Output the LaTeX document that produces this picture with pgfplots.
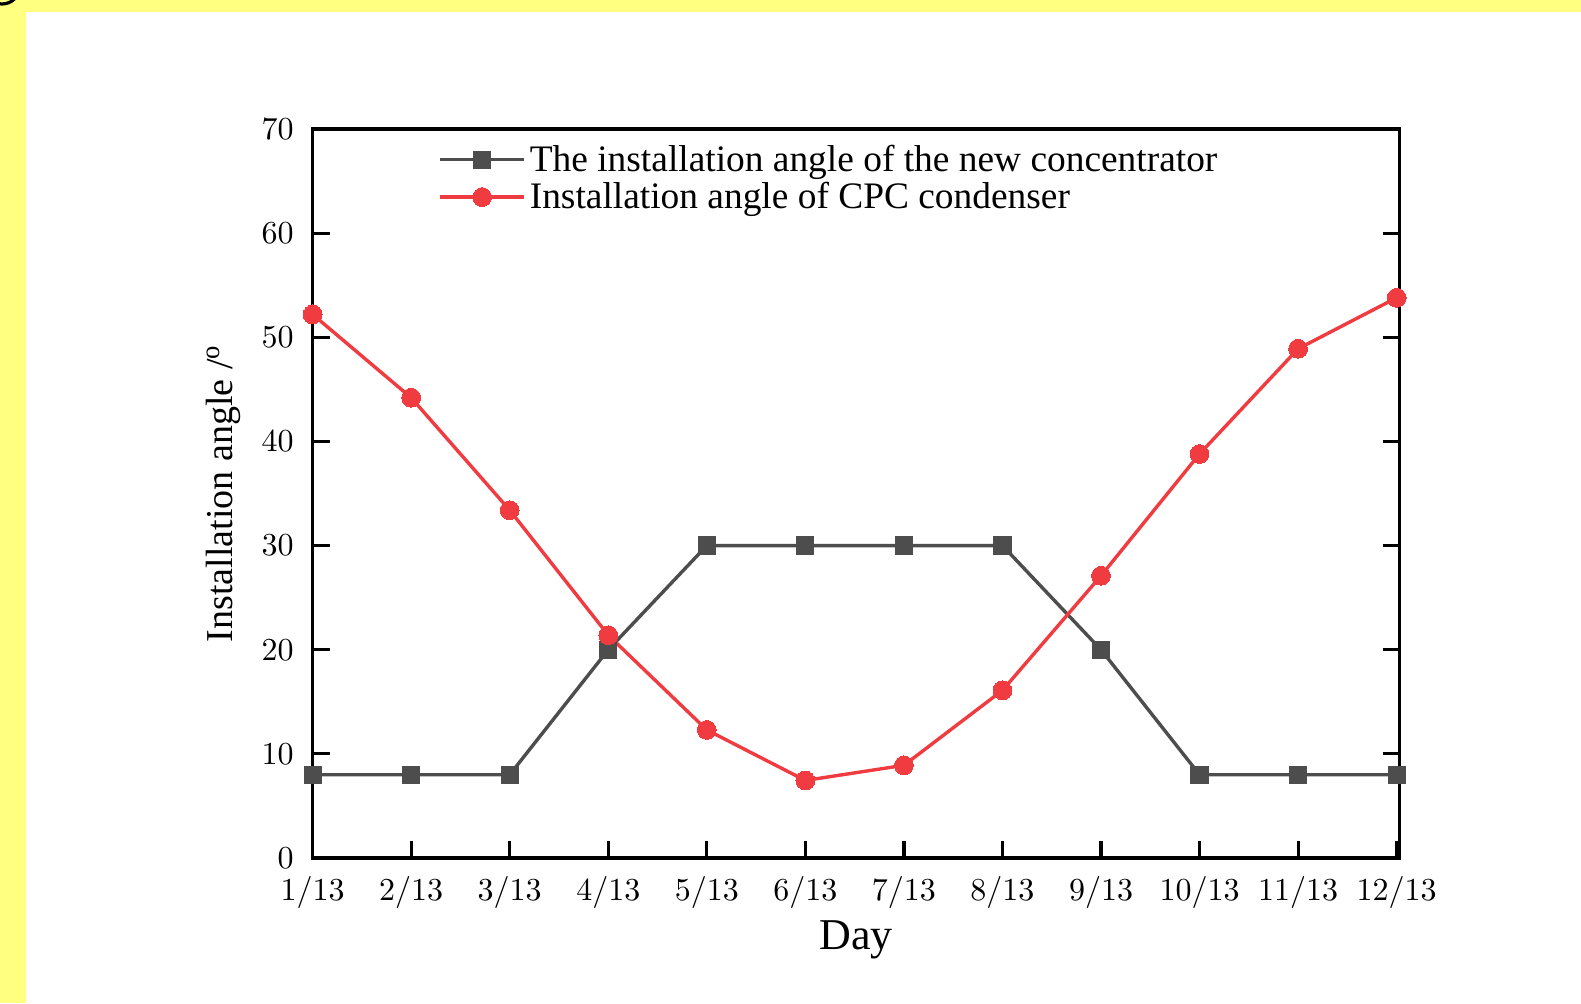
\documentclass[border=0pt]{standalone}
\usepackage{pgfplots}
\pgfplotsset{compat=1.18}
\usepackage{fontspec}
\setmainfont{Liberation Serif}
\newfontfamily\lmten{lmroman10-regular.otf}
\definecolor{bg}{RGB}{255,255,128}
\definecolor{cgray}{RGB}{77,77,77}
\definecolor{cred}{RGB}{240,60,64}
\begin{document}
\begin{tikzpicture}
\useasboundingbox (0,0) rectangle (790.5pt,-501.5pt);
\fill[bg] (0,0) rectangle (790.5pt,-501.5pt);
\fill[white] (12.75pt,-6pt) rectangle (790.5pt,-501.5pt);
\begin{scope}
\clip (0,0) rectangle (12.75pt,-6pt);
\draw[line width=1.6pt] (1pt,7pt) circle (9pt);
\end{scope}
\begin{axis}[
  at={(156.3pt,-429pt)}, anchor=south west,
  scale only axis, width=543.5pt, height=364.5pt,
  xmin=0, xmax=11.03, ymin=0, ymax=70,
  xtick={0,...,11},
  xticklabels={1/13,2/13,3/13,4/13,5/13,6/13,7/13,8/13,9/13,10/13,11/13,12/13},
  ytick={0,10,...,70},
  /pgf/number format/assume math mode=true,
  xtick pos=bottom, ytick pos=both,
  tick align=inside,
  major tick length=8.5pt,
  axis line style={line width=1.7pt},
  every tick/.style={black, line width=1.6pt},
  tick label style={font=\lmten\fontsize{16}{18}\selectfont},
  yticklabel style={xshift=-6pt},
  xticklabel style={yshift=-5.5pt},
  ylabel={Installation angle /\textsuperscript{o}},
  ylabel style={at={(rel axis cs:-0.0825,0.5)}, rotate=0, anchor=center, font=\fontsize{19}{22}\selectfont},
  xlabel={Day},
  xlabel style={at={(rel axis cs:0.5,-0.112)}, anchor=center, font=\fontsize{22}{24}\selectfont},
  clip=false,
  legend cell align=left,
  legend style={at={(0.1154,0.984)}, anchor=north west, draw=none, fill=none,
    font=\fontsize{18.7}{19.5}\selectfont, row sep=0pt, inner sep=0pt,
    /tikz/every even column/.append style={column sep=3pt}},
  legend image code/.code={
    \draw[#1, mark=none] (0pt,0pt) -- (42pt,0pt);
    \draw[#1, only marks] plot coordinates {(21pt,0pt)};
  },
]
\addplot[color=cgray, line width=1.7pt, mark=square*, mark size=4.3pt, mark options={solid, fill=cgray, line width=0pt}]
coordinates {(0,8) (1,8) (2,8) (3,20) (4,30) (5,30) (6,30) (7,30) (8,20) (9,8) (10,8) (11,8)};
\addlegendentry{The installation angle of the new concentrator}
\addplot[color=cred, line width=1.7pt, mark=*, mark size=4.7pt, mark options={solid, fill=cred, line width=0pt}]
coordinates {(0,52.2) (1,44.2) (2,33.4) (3,21.4) (4,12.3) (5,7.45) (6,8.9) (7,16.1) (8,27.1) (9,38.8) (10,48.9) (11,53.8)};
\addlegendentry{Installation angle of CPC condenser}
\end{axis}
\end{tikzpicture}
\end{document}
